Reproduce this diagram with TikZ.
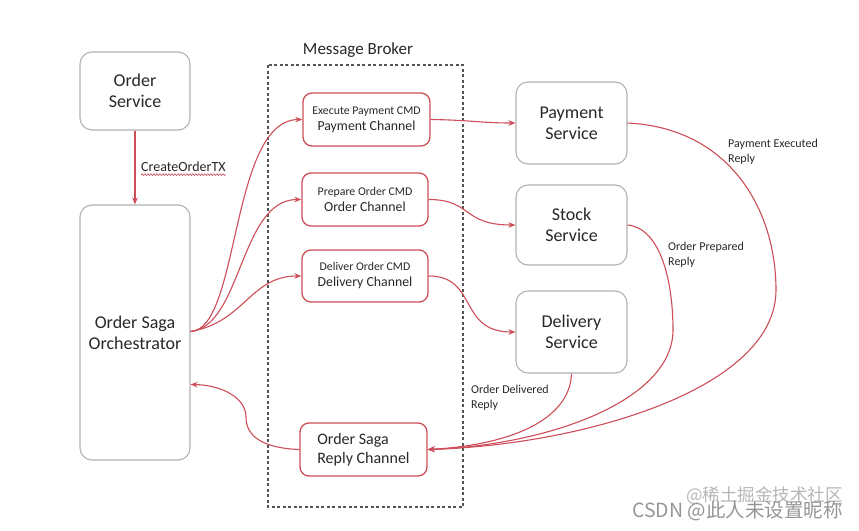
\documentclass[tikz,border=0pt]{standalone}
\usepackage{fontspec}
\setmainfont{Carlito}
\newfontfamily\cjkfont{Noto Sans CJK SC}
\usetikzlibrary{arrows.meta,calc,decorations.pathmorphing}
\definecolor{linkred}{RGB}{205,78,88}
\definecolor{boxgray}{RGB}{178,178,178}
\definecolor{txt}{RGB}{40,40,40}
\definecolor{wm}{RGB}{150,150,150}
\begin{document}
\begin{tikzpicture}[x=1pt,y=-1pt,
  svc/.style={draw=boxgray,line width=1.1pt,rounded corners=12pt,fill=white,inner sep=0pt,align=center,text=txt,font=\fontsize{18}{21}\selectfont},
  chan/.style={draw=linkred,line width=1.3pt,rounded corners=9pt,fill=white,inner sep=0pt,align=center,text=txt,font=\fontsize{13.8}{16}\selectfont},
  small/.style={text=txt,font=\fontsize{12}{15}\selectfont,align=left,inner sep=0pt},
  link/.style={draw=linkred,line width=1.1pt,-{Stealth[length=7pt,width=5.5pt]}}
]
\useasboundingbox[fill=white] (0,0) rectangle (859,530);

% message broker frame
\draw[line width=1.1pt,draw=txt!80,dash pattern=on 3pt off 2.5pt] (268,65) rectangle (463,507);
\node[text=txt,font=\fontsize{17}{20}\selectfont] (mbt) at (358,50) {Message Broker};

% services
\node[svc,minimum width=110pt,minimum height=78pt] (os) at (135,91) {Order\\Service};
\node[svc,minimum width=110pt,minimum height=255pt] (orch) at (135,332.5) {Order Saga\\Orchestrator};
\node[svc,minimum width=111pt,minimum height=82pt] (pay) at (571.5,123) {Payment\\Service};
\node[svc,minimum width=111pt,minimum height=80pt] (stock) at (571.5,225) {Stock\\Service};
\node[svc,minimum width=111pt,minimum height=82pt] (del) at (571.5,332) {Delivery\\Service};

% channels
\node[chan,minimum width=127pt,minimum height=53pt] (pc) at (366.5,119.5) {{\fontsize{11.8}{13}\selectfont Execute Payment CMD}\\Payment Channel};
\node[chan,minimum width=126pt,minimum height=53pt] (oc) at (365,199.5) {{\fontsize{11.8}{13}\selectfont Prepare Order CMD}\\Order Channel};
\node[chan,minimum width=126pt,minimum height=52pt] (dc) at (365,276) {{\fontsize{11.8}{13}\selectfont Deliver Order CMD}\\Delivery Channel};
\node[chan,minimum width=127pt,minimum height=53pt,align=left,font=\fontsize{16}{19.5}\selectfont] (rc) at (363.5,449.5) {Order Saga\\Reply Channel};

% create order
\draw[link] (os.south) -- (orch.north);
\node[text=txt,font=\fontsize{14}{16}\selectfont,anchor=west,inner sep=0pt] (ctx) at (141,167) {CreateOrderTX};
\draw[linkred,line width=0.6pt,decorate,decoration={snake,amplitude=0.9pt,segment length=3pt}] (ctx.south west) ++(0,2.5) -- ($(ctx.south east)+(0,2.5)$);

% orchestrator -> channels
\draw[link] ($(orch.east)+(0,-1)$) .. controls (240,330) and (230,120) .. (pc.west);
\draw[link] ($(orch.east)+(0,-1)$) .. controls (242,326) and (240,199.5) .. (oc.west);
\draw[link] ($(orch.east)+(0,-1)$) .. controls (245,322) and (250,276) .. (dc.west);

% channels -> services
\draw[link] (pc.east) .. controls (470,120) and (480,123) .. (pay.west);
\draw[link] (oc.east) .. controls (472,199.5) and (462,225) .. (stock.west);
\draw[link] (dc.east) .. controls (478,276) and (458,332) .. (del.west);

% replies
\draw[link] (pay.east) .. controls (730,128) and (776,210) .. (776,290) .. controls (776,390) and (580,445) .. (rc.east);
\draw[link] (stock.east) .. controls (660,228) and (673,280) .. (673,330) .. controls (673,400) and (550,445) .. (rc.east);
\draw[link] (del.south) .. controls (570,420) and (510,445) .. (rc.east);

% reply channel -> orchestrator
\draw[link] (rc.west) .. controls (262,448) and (246,436) .. (246,417) .. controls (246,398) and (222,385) .. ($(orch.east)+(0,52)$);

% labels
\node[small,anchor=north west] (l1) at (728,139) {Payment Executed\\Reply};
\node[small,anchor=north west] (l2) at (668,242) {Order Prepared\\Reply};
\node[small,anchor=north west] (l3) at (471,385) {Order Delivered\\Reply};

% watermark
\node[text=wm!70,font=\cjkfont\fontsize{17.5}{20}\selectfont,anchor=east,inner sep=0pt] (wm1) at (843,496) {@稀土掘金技术社区};
\node[text=wm,font=\cjkfont\fontsize{19.5}{22}\selectfont,anchor=east,inner sep=0pt] (wm2) at (843,511) {CSDN @此人未设置昵称};
\end{tikzpicture}
\end{document}
